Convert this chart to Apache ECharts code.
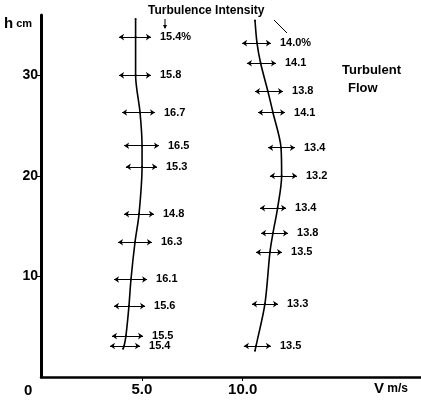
<!DOCTYPE html>
<html>
<head>
<meta charset="utf-8">
<script src="https://cdn.jsdelivr.net/npm/echarts@6/dist/echarts.min.js"></script>
<style>
  html, body { margin: 0; padding: 0; background: #fff; }
  #chart { width: 421px; height: 402px; }
</style>
</head>
<body>
<div id="chart"></div>
<script>
// left profile (lower velocity)
const lowH = [33.8, 30.0, 26.3, 23.0, 20.9, 16.2, 13.4, 9.7, 7.05, 4.07, 3.08]
const lowV = [4.69, 4.69, 4.91, 5.01, 5.01, 4.86, 4.66, 4.46, 4.36, 4.21, 4.12]
const lowMin = [3.87, 3.87, 4.02, 4.12, 4.21, 4.12, 3.82, 3.62, 3.62, 3.52, 3.42]
const lowMax = [5.45, 5.45, 5.65, 5.85, 5.75, 5.60, 5.50, 5.26, 5.16, 5.06, 4.91]
const lowTI = ['15.4%', '15.8', '16.7', '16.5', '15.3', '14.8', '16.3', '16.1', '15.6', '15.5', '15.4']
const lowEnds = [[4.69, 35.6], [4.07, 2.8]]

// right profile (higher velocity)
const highH = [33.2, 31.2, 28.4, 26.3, 22.8, 20.0, 16.8, 14.3, 12.4, 7.25, 3.08]
const highV = [10.71, 10.89, 11.25, 11.5, 11.9, 11.93, 11.73, 11.5, 11.35, 11.1, 10.66]
const highMin = [9.97, 10.21, 10.61, 10.76, 11.26, 11.35, 10.86, 10.91, 10.66, 10.46, 10.06]
const highMax = [11.40, 11.65, 12.0, 12.10, 12.59, 12.69, 12.15, 12.25, 11.95, 11.75, 11.40]
const highTI = ['14.0%', '14.1', '13.8', '14.1', '13.4', '13.2', '13.4', '13.8', '13.5', '13.3', '13.5']
const highEnds = [[10.61, 35.45], [10.61, 2.6]]

const xTicks = [5, 10]
const xTickLabels = { 5: '5.0', 10: '10.0' }
const yTicks = [10, 20, 30]

const FONT = 'Liberation Sans'

function curve(v, h, ends) {
  const pts = v.map((x, i) => [x, h[i]])
  return [ends[0]].concat(pts).concat([ends[1]])
}
function bars(h, lo, hi) {
  return h.map((y, i) => ({ coords: [[lo[i], y], [hi[i], y]] }))
}
function labels(h, hi, ti) {
  return h.map((y, i) => ({ value: [hi[i], y], name: ti[i] }))
}

const barStyle = {
  type: 'lines',
  coordinateSystem: 'cartesian2d',
  symbol: ['arrow', 'arrow'],
  symbolSize: 5,
  lineStyle: { color: '#000', width: 1, opacity: 1 },
  silent: true,
  z: 3
}
const labelStyle = {
  type: 'scatter',
  symbolSize: 0,
  silent: true,
  itemStyle: { color: '#000', opacity: 1 },
  label: {
    show: true,
    position: 'right',
    distance: 9,
    formatter: p => p.name,
    color: '#000',
    opacity: 1,
    fontFamily: FONT,
    fontWeight: 'bold',
    fontSize: 11
  }
}
const curveStyle = {
  type: 'line',
  smooth: 0.3,
  symbol: 'circle',
  symbolSize: 2,
  showSymbol: true,
  itemStyle: { color: '#000' },
  lineStyle: { color: '#000', width: 1.6 },
  silent: true,
  z: 4
}

const chart = echarts.init(document.getElementById('chart'))
const option = {
  animation: false,
  backgroundColor: '#fff',
  grid: { left: 41, right: 0, top: 15, bottom: 25 },
  xAxis: {
    type: 'value',
    min: 0,
    max: 18.84,
    interval: 5,
    splitLine: { show: false },
    axisLine: { onZero: false, lineStyle: { color: '#000', width: 2.5 } },
    axisTick: { show: true, length: 4, customValues: xTicks, lineStyle: { color: '#000', width: 1 } },
    axisLabel: {
      customValues: xTicks,
      formatter: v => xTickLabels[v] || '',
      color: '#000',
      fontFamily: FONT,
      fontWeight: 'bold',
      fontSize: 15,
      margin: 5
    }
  },
  yAxis: {
    type: 'value',
    min: 0,
    max: 36,
    interval: 10,
    splitLine: { show: false },
    axisLine: { onZero: false, lineStyle: { color: '#000', width: 3 } },
    axisTick: { show: true, length: 5, customValues: yTicks, lineStyle: { color: '#000', width: 1 } },
    axisLabel: {
      customValues: yTicks,
      color: '#000',
      fontFamily: FONT,
      fontWeight: 'bold',
      fontSize: 14,
      margin: 3
    }
  },
  series: [
    Object.assign({}, curveStyle, { data: curve(lowV, lowH, lowEnds) }),
    Object.assign({}, curveStyle, { data: curve(highV, highH, highEnds) }),
    Object.assign({}, barStyle, { data: bars(lowH, lowMin, lowMax) }),
    Object.assign({}, barStyle, { data: bars(highH, highMin, highMax) }),
    Object.assign({}, labelStyle, { data: labels(lowH, lowMax, lowTI) }),
    Object.assign({}, labelStyle, { data: labels(highH, highMax, highTI) })
  ],
  graphic: [
    {
      type: 'text', left: 4, top: 16,
      style: {
        text: '{h|h}{c| cm}',
        rich: {
          h: { fontFamily: FONT, fontWeight: 'bold', fontSize: 15, fill: '#000' },
          c: { fontFamily: FONT, fontWeight: 'bold', fontSize: 11, fill: '#000' }
        }
      }
    },
    {
      type: 'text', left: 24, top: 383,
      style: { text: '0', fontFamily: FONT, fontWeight: 'bold', fontSize: 15, fill: '#000' }
    },
    {
      type: 'text', left: 374, top: 381,
      style: {
        text: '{v|V}{u| m/s}',
        rich: {
          v: { fontFamily: FONT, fontWeight: 'bold', fontSize: 15, fill: '#000' },
          u: { fontFamily: FONT, fontWeight: 'bold', fontSize: 12, fill: '#000' }
        }
      }
    },
    {
      type: 'text', left: 148, top: 5,
      style: { text: 'Turbulence Intensity', fontFamily: FONT, fontWeight: 'bold', fontSize: 12, fill: '#000' }
    },
    {
      type: 'text', left: 342, top: 64,
      style: { text: 'Turbulent', fontFamily: FONT, fontWeight: 'bold', fontSize: 13, fill: '#000' }
    },
    {
      type: 'text', left: 348, top: 82,
      style: { text: 'Flow', fontFamily: FONT, fontWeight: 'bold', fontSize: 13, fill: '#000' }
    },
    {
      type: 'line',
      shape: { x1: 165, y1: 19, x2: 165, y2: 28 },
      style: { stroke: '#000', lineWidth: 1 }
    },
    {
      type: 'polygon',
      shape: { points: [[163, 25], [167, 25], [165, 29]] },
      style: { fill: '#000' }
    },
    {
      type: 'line',
      shape: { x1: 274, y1: 20, x2: 287, y2: 33 },
      style: { stroke: '#000', lineWidth: 1 }
    }
  ]
}
chart.setOption(option)
</script>
</body>
</html>
